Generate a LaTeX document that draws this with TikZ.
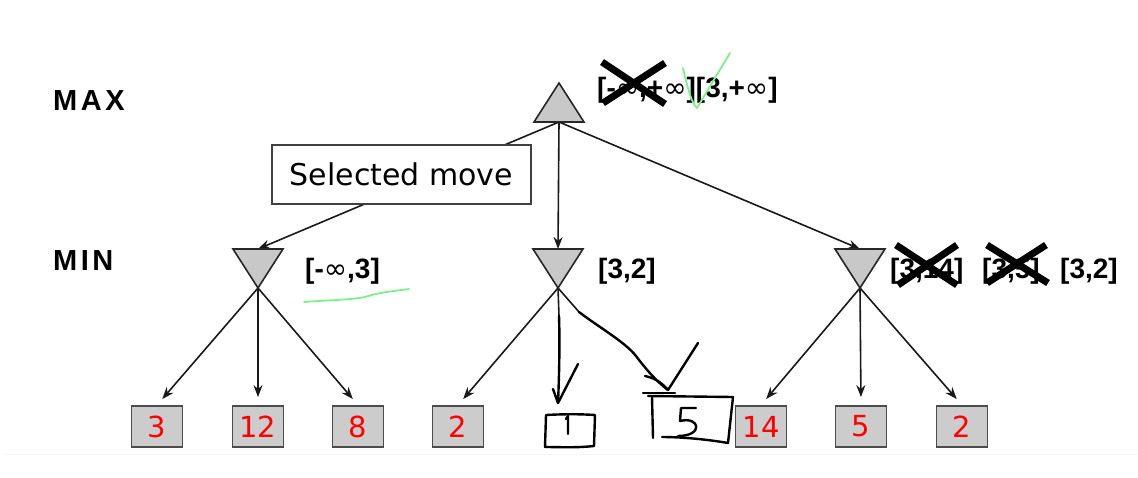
\documentclass[tikz,border=0pt]{standalone}
\usepackage{fontspec}
\setmainfont{Liberation Sans}
\newfontfamily\verd{DejaVu Sans}
\usetikzlibrary{arrows.meta}
\definecolor{trigray}{HTML}{C8C8C8}
\definecolor{leafgray}{HTML}{CCCCCC}
\definecolor{pengreen}{RGB}{125,240,135}
\newcommand\infsym{{\verd\mdseries ∞}}
\begin{document}
\begin{tikzpicture}[x=1pt,y=-1pt,
  tribox/.style={minimum width=50pt,minimum height=39pt,inner sep=0pt,outer sep=0pt},
  tri/.style={fill=trigray,draw=black!85,line width=1.6pt,line join=miter},
  link/.style={draw=black!90,line width=1.6pt,-{Stealth[length=12pt,width=9pt]}},
  stub/.style={draw=black!90,line width=1.6pt},
  leaf/.style={draw=black!70,fill=leafgray,line width=1.8pt,minimum width=51pt,minimum height=41pt,inner sep=0pt,text=red,font=\verd\fontsize{29}{29}\selectfont},
  bound/.style={font=\bfseries\fontsize{28}{28}\selectfont,inner sep=0pt,anchor=base west},
  level/.style={font=\bfseries\fontsize{29}{29}\selectfont\addfontfeature{LetterSpace=12},inner sep=0pt,anchor=west},
  cross/.style={line width=7pt,black},
  pen/.style={black,line width=2.4pt,line cap=round,line join=round},
  tick/.style={pengreen,line width=1.8pt,line cap=round,line join=round}]
\useasboundingbox (0,0) rectangle (1138,477);

% faint page rule
\draw[black!4,line width=1pt] (5,454) -- (1138,454);

% level labels
\node[level] (lmax) at (53,101) {MAX};
\node[level] (lmin) at (53,261) {MIN};

% MAX and MIN nodes (triangles drawn on invisible boxes)
\node[tribox] (max) at (559,102.5) {};
\node[tribox] (mina) at (258,268.5) {};
\node[tribox] (minb) at (558,268.5) {};
\node[tribox] (minc) at (860,268.5) {};

% leaves
\node[leaf] (a1) at (157,426.5) {3};
\node[leaf] (a2) at (258,426.5) {12};
\node[leaf] (a3) at (358,426.5) {8};
\node[leaf] (b1) at (458,426.5) {2};
\node[leaf] (c1) at (761,426.5) {14};
\node[leaf] (c2) at (861,426.5) {5};
\node[leaf] (c3) at (962,426.5) {2};

% connectors from MAX
\draw[link] (max.south) -- (mina.north);
\draw[link] (max.south) -- (minb.north);
\draw[link] (max.south) -- (minc.north);

% connectors from MIN to leaves
\foreach \m/\l in {mina/a1,mina/a2,mina/a3,minb/b1,minc/c1,minc/c2,minc/c3}
  \draw[link,shorten >=8pt] (\m.south) -- (\l.north);

% short remains of the other two links of the middle MIN node
\coordinate (s1) at (559,316);
\coordinate (s2) at (579,312);
\draw[stub] (minb.south) -- (s1);
\draw[stub] (minb.south) -- (s2);

% triangles
\draw[tri] (max.north) -- (max.south east) -- (max.south west) -- cycle;
\foreach \n in {mina,minb,minc}
  \draw[tri] (\n.south) -- (\n.north west) -- (\n.north east) -- cycle;

% selected move box
\node[draw=black!75,fill=white,line width=1.3pt,minimum width=259pt,minimum height=59pt,inner sep=0pt,
      font=\verd\fontsize{30}{30}\selectfont] (sel) at (401.5,174.5) {Selected move};

% bounds
\node[bound] (bmax) at (597,97) {[-\infsym,+\infsym][3,+\infsym]};
\node[bound] (ba) at (305,278) {[-\infsym,3]};
\node[bound] (bb) at (598,278) {[3,2]};
\node[bound] (bc1) at (890,278) {[3,14]};
\node[bound] (bc2) at (982,278) {[3,5]};
\node[bound] (bc3) at (1060,278) {[3,2]};

% struck-out bounds
\draw[cross] (602,62) -- (665,104);
\draw[cross] (603,103) -- (665,63);
\draw[cross] (896,245) -- (957,285);
\draw[cross] (898,285) -- (957,245);
\draw[cross] (987,245) -- (1048,283);
\draw[cross] (987,283) -- (1046,245);

% green pen marks
\draw[tick] (683,68) .. controls (688,90) and (692,104) .. (697,108) -- (730,53);
\draw[tick] (304,302) .. controls (330,300) and (350,300) .. (365,297)
            .. controls (380,292) and (395,291) .. (409,289);

% hand-drawn link and leaf "1"
\draw[pen] (s1) .. controls (560,345) and (559,380) .. (558,403);
\draw[pen] (553,389) -- (558,403) -- (578,364);
\draw[pen] (546,415) .. controls (565,414) and (580,414) .. (595,415)
           -- (594,446) .. controls (575,448) and (560,447) .. (545,447) -- cycle;
\draw[pen] (566,419) -- (568,416) -- (568,434);

% hand-drawn link and leaf "5"
\draw[pen] (s2) .. controls (600,328) and (625,342) .. (636,356)
           .. controls (645,368) and (655,380) .. (668,390);
\draw[pen] (645,376) .. controls (655,378) and (662,383) .. (668,390) -- (698,343);
\draw[pen] (643,393) -- (675,393);
\draw[pen] (648,396) -- (733,397) -- (728,443) .. controls (705,439) and (680,437) .. (662,437);
\draw[pen] (652,397) -- (653,438);
\draw[pen] (696,408) -- (681,408) -- (680,421)
           .. controls (700,416) and (704,436) .. (678,436);
\end{tikzpicture}
\end{document}
